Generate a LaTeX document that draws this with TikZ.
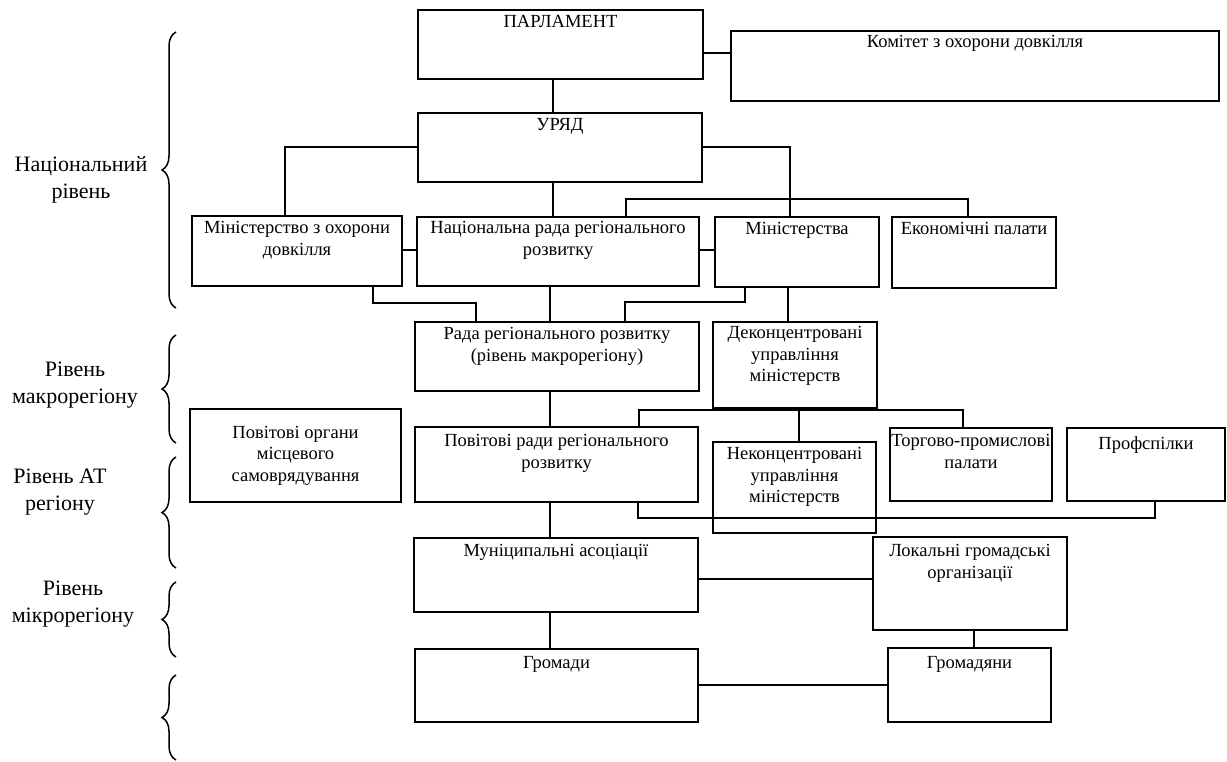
\documentclass[tikz,border=0pt]{standalone}
\usepackage{fontspec}
\setmainfont{Liberation Serif}
\usetikzlibrary{fit,decorations.pathreplacing}
\begin{document}
\begin{tikzpicture}[x=1pt,y=-1pt,
  box/.style={draw, line width=1.6pt, inner sep=0pt},
  txt/.style={font=\fontsize{18.5}{21.5}\selectfont, align=center, inner sep=0pt, anchor=north},
  lvl/.style={font=\fontsize{22}{27}\selectfont, align=center, inner sep=0pt},
  conn/.style={line width=1.6pt},
  br/.style={line width=1.5pt, decorate, decoration={brace, amplitude=14pt}}
]
\useasboundingbox (0,0) rectangle (1227,761);

% boxes
\node[box, fit={(418,10) (703,79)}] (parl) {};
\node[box, fit={(731,31) (1219,101)}] (kom) {};
\node[box, fit={(418,113) (702,182)}] (uryad) {};
\node[box, fit={(192,216) (402,286)}] (minenv) {};
\node[box, fit={(417,217) (699,286)}] (nrada) {};
\node[box, fit={(715,217) (879,287)}] (mins) {};
\node[box, fit={(892,217) (1056,288)}] (econ) {};
\node[box, fit={(415,322) (699,391)}] (rrr) {};
\node[box, fit={(713,322) (877,408)}] (dek) {};
\node[box, fit={(190,409) (401,502)}] (povorg) {};
\node[box, fit={(415,427) (698,502)}] (povr) {};
\node[box, fit={(713,442) (876,533)}] (nekon) {};
\node[box, fit={(890,428) (1052,501)}] (torg) {};
\node[box, fit={(1067,428) (1225,501)}] (prof) {};
\node[box, fit={(414,538) (698,612)}] (mun) {};
\node[box, fit={(873,537) (1067,630)}] (lok) {};
\node[box, fit={(415,649) (698,722)}] (hrom) {};
\node[box, fit={(888,648) (1051,722)}] (hromy) {};

% texts
\node[txt] (parl-t) at ([yshift=-6pt]parl.north) {ПАРЛАМЕНТ};
\node[txt] (kom-t) at ([yshift=-5pt]kom.north) {Комітет з охорони довкілля};
\node[txt] (uryad-t) at ([yshift=-6pt]uryad.north) {УРЯД};
\node[txt] (minenv-t) at ([yshift=-6pt]minenv.north) {Міністерство з охорони\\довкілля};
\node[txt] (nrada-t) at ([yshift=-5pt]nrada.north) {Національна рада регіонального\\розвитку};
\node[txt] (mins-t) at ([yshift=-6pt]mins.north) {Міністерства};
\node[txt] (econ-t) at ([yshift=-6pt]econ.north) {Економічні палати};
\node[txt] (rrr-t) at ([yshift=-6pt]rrr.north) {Рада регіонального розвитку\\(рівень макрорегіону)};
\node[txt] (dek-t) at ([yshift=-5pt]dek.north) {Деконцентровані\\управління\\міністерств};
\node[txt, anchor=center] (povorg-t) at (povorg.center) {Повітові органи\\місцевого\\самоврядування};
\node[txt] (povr-t) at ([yshift=-8pt]povr.north) {Повітові ради регіонального\\розвитку};
\node[txt] (nekon-t) at ([yshift=-6pt]nekon.north) {Неконцентровані\\управління\\міністерств};
\node[txt] (torg-t) at ([yshift=-7pt]torg.north) {Торгово-промислові\\палати};
\node[txt] (prof-t) at ([yshift=-9pt]prof.north) {Профспілки};
\node[txt] (mun-t) at ([yshift=-7pt]mun.north) {Муніципальні асоціації};
\node[txt] (lok-t) at ([yshift=-8pt]lok.north) {Локальні громадські\\організації};
\node[txt] (hrom-t) at ([yshift=-8pt]hrom.north) {Громади};
\node[txt] (hromy-t) at ([yshift=-9pt]hromy.north) {Громадяни};

% connectors
\draw[conn] (parl.east |- 0,53) -- (kom.west |- 0,53);
\draw[conn] (parl.south -| 553,0) -- (uryad.north -| 553,0);
\draw[conn] (uryad.west |- 0,147) -| (minenv.north -| 285,0);
\draw[conn] (uryad.east |- 0,147) -| (mins.north -| 790,0);
\draw[conn] (uryad.south -| 553,0) -- (nrada.north -| 553,0);
\draw[conn] (nrada.north -| 626,0) |- (968,199) -- (econ.north -| 968,0);
\draw[conn] (minenv.east |- 0,250) -- (nrada.west |- 0,250);
\draw[conn] (nrada.east |- 0,250) -- (mins.west |- 0,250);
\draw[conn] (minenv.south -| 373,0) |- (476,303) -- (rrr.north -| 476,0);
\draw[conn] (nrada.south -| 550,0) -- (rrr.north -| 550,0);
\draw[conn] (mins.south -| 745,0) |- (625,302) -- (rrr.north -| 625,0);
\draw[conn] (mins.south -| 788,0) -- (dek.north -| 788,0);
\draw[conn] (dek.south -| 799,0) -- (nekon.north -| 799,0);
\draw[conn] (povr.north -| 639,0) |- (963,410) -- (torg.north -| 963,0);
\draw[conn] (rrr.south -| 550,0) -- (povr.north -| 550,0);
\draw[conn] (povr.south -| 638,0) |- (1155,518) -- (prof.south -| 1155,0);
\draw[conn] (povr.south -| 550,0) -- (mun.north -| 550,0);
\draw[conn] (mun.east |- 0,579) -- (lok.west |- 0,579);
\draw[conn] (mun.south -| 550,0) -- (hrom.north -| 550,0);
\draw[conn] (lok.south -| 974,0) -- (hromy.north -| 974,0);
\draw[conn] (hrom.east |- 0,685) -- (hromy.west |- 0,685);

% level labels and braces
\node[lvl] (l1) at (81,180) {Національний\\рівень};
\node[lvl] (l2) at (75,385) {Рівень\\макрорегіону};
\node[lvl] (l3) at (60,492) {Рівень АТ\\регіону};
\node[lvl] (l4) at (73,604) {Рівень\\мікрорегіону};
\draw[br] (176,308) -- (176,32);
\draw[br] (176,443) -- (176,335);
\draw[br] (176,568) -- (176,457);
\draw[br] (176,657) -- (176,582);
\draw[br] (176,760) -- (176,675);
\end{tikzpicture}
\end{document}
